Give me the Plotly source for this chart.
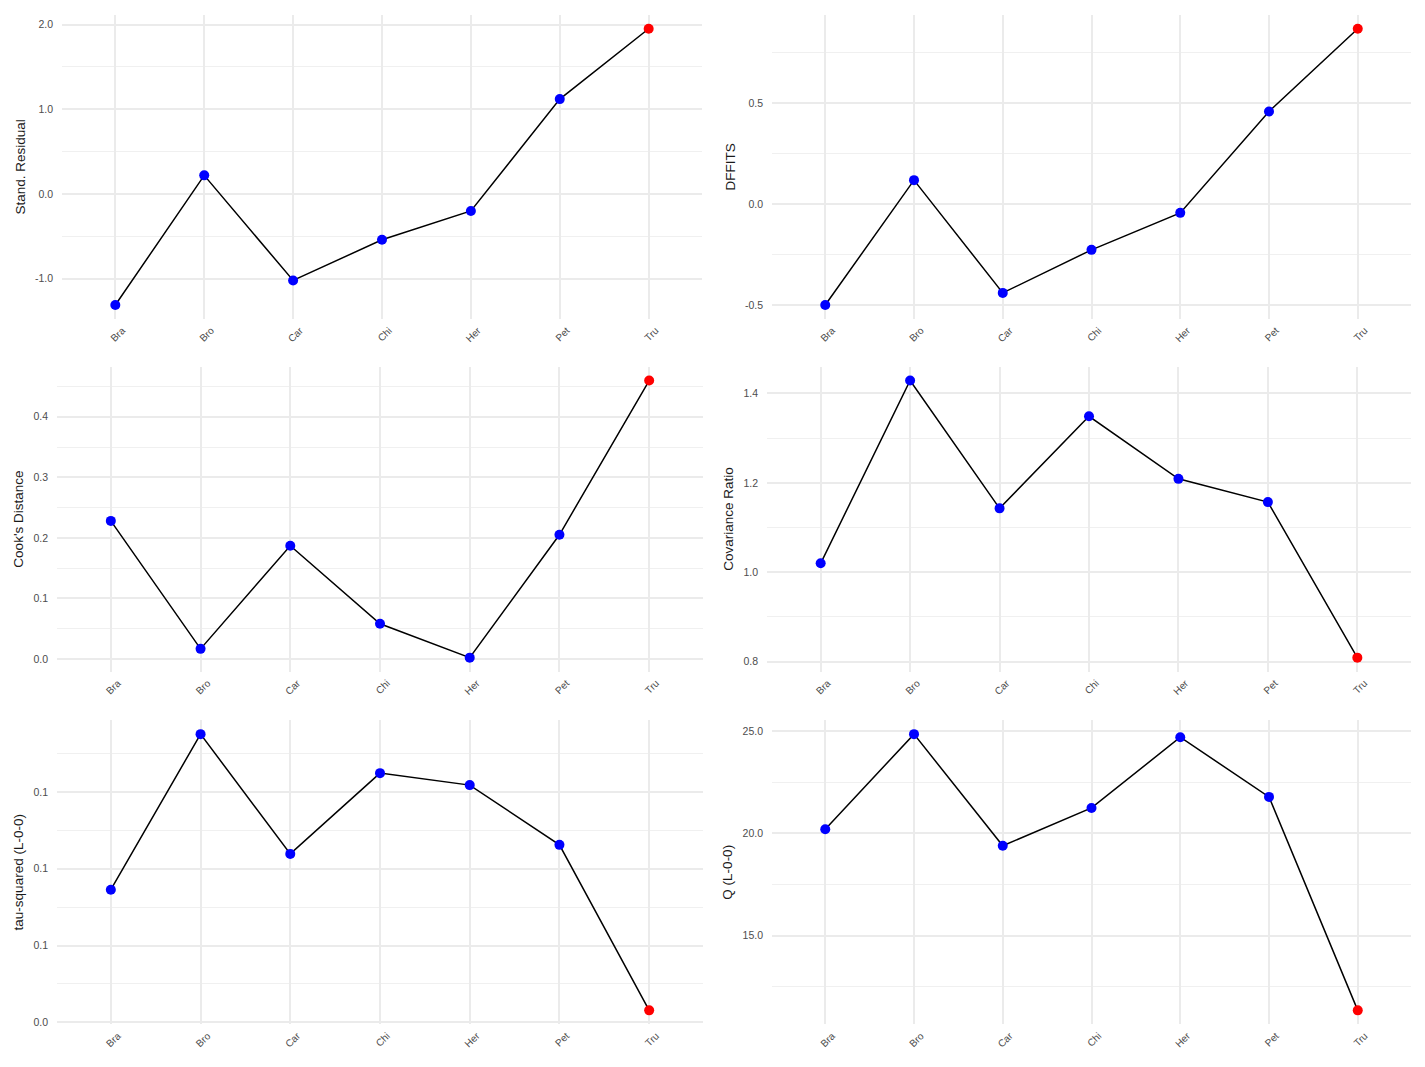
import math
import plotly.graph_objects as go

categories = ["Bra", "Bro", "Car", "Chi", "Her", "Pet", "Tru"]

stand_residual = [-1.31, 0.22, -1.02, -0.54, -0.20, 1.12, 1.95]
dffits = [-0.50, 0.118, -0.44, -0.227, -0.044, 0.458, 0.867]
cooks_distance = [0.228, 0.0165, 0.187, 0.058, 0.002, 0.205, 0.46]
covariance_ratio = [1.02, 1.429, 1.143, 1.349, 1.209, 1.157, 0.809]
tau_squared = [0.0864, 0.1877, 0.1097, 0.1623, 0.1545, 0.1156, 0.0078]
q_stat = [20.2, 24.85, 19.39, 21.24, 24.7, 21.78, 11.34]

# flagged (red) study
flag_index = 6

panels = [
    dict(y=stand_residual, title="Stand. Residual", dtick=1.0, minor=0.5,
         dom=(62, 702, 15, 320)),
    dict(y=dffits, title="DFFITS", dtick=0.5, minor=0.25,
         dom=(772, 1411, 15, 320)),
    dict(y=cooks_distance, title="Cook's Distance", dtick=0.1, minor=0.05,
         dom=(57, 703, 368, 674)),
    dict(y=covariance_ratio, title="Covariance Ratio", dtick=0.2, minor=0.1,
         dom=(767, 1411, 368, 674)),
    dict(y=tau_squared, title="tau-squared (L-0-0)", dtick=0.05, minor=0.025,
         dom=(57, 703, 723, 1028)),
    dict(y=q_stat, title="Q (L-0-0)", dtick=5.0, minor=2.5,
         dom=(772, 1411, 723, 1028)),
]

W, H = 1425, 1067
OFF = 8  # page body margin
fig = go.Figure()
layout = dict(
    width=W, height=H,
    margin=dict(l=0, r=0, t=0, b=0),
    paper_bgcolor="white", plot_bgcolor="white",
    showlegend=False,
    font=dict(family="Liberation Sans, Arial, sans-serif"),
)

GRID = "#EBEBEB"
for i, p in enumerate(panels, start=1):
    xa = "x" if i == 1 else f"x{i}"
    ya = "y" if i == 1 else f"y{i}"
    colors = ["#FF0000" if k == flag_index else "#0000FF" for k in range(len(categories))]
    fig.add_trace(go.Scatter(
        x=categories, y=p["y"], mode="lines+markers",
        line=dict(color="black", width=1.5),
        marker=dict(color=colors, size=10),
        xaxis=xa, yaxis=ya, hoverinfo="skip",
    ))
    lo, hi = min(p["y"]), max(p["y"])
    span = hi - lo
    yr = [lo - 0.05 * span, hi + 0.05 * span]
    d = p["dtick"]
    k0 = math.ceil(yr[0] / d - 1e-9)
    k1 = math.floor(yr[1] / d + 1e-9)
    tv = [round(k * d, 10) for k in range(k0, k1 + 1)]
    tt = ["%.1f" % v for v in tv]
    x0, x1, top, bot = p["dom"]
    x0 -= OFF; x1 -= OFF; top -= OFF; bot -= OFF
    layout[f"xaxis{i}" if i > 1 else "xaxis"] = dict(
        domain=[x0 / W, x1 / W], anchor=ya, type="category",
        range=[-0.6, len(categories) - 0.4],
        showgrid=True, gridcolor=GRID, gridwidth=1.8,
        zeroline=False, showline=False, ticks="",
        tickangle=-45, ticklabelshift=7, ticklabelstandoff=3,
        tickfont=dict(size=10, color="#4D4D4D"),
    )
    layout[f"yaxis{i}" if i > 1 else "yaxis"] = dict(
        domain=[1 - bot / H, 1 - top / H], anchor=xa,
        range=yr, tickmode="array", tickvals=tv, ticktext=tt,
        showgrid=True, gridcolor=GRID, gridwidth=1.8,
        minor=dict(dtick=p["minor"], tick0=0, showgrid=True,
                   gridcolor="#F0F0F0", gridwidth=1),
        zeroline=False, showline=False, ticks="",
        ticklabelstandoff=8,
        tickfont=dict(size=10.5, color="#4D4D4D"),
        title=dict(text=p["title"], font=dict(size=13.5, color="#1A1A1A"), standoff=6),
    )

fig.update_layout(**layout)
fig.write_html("out.html")
